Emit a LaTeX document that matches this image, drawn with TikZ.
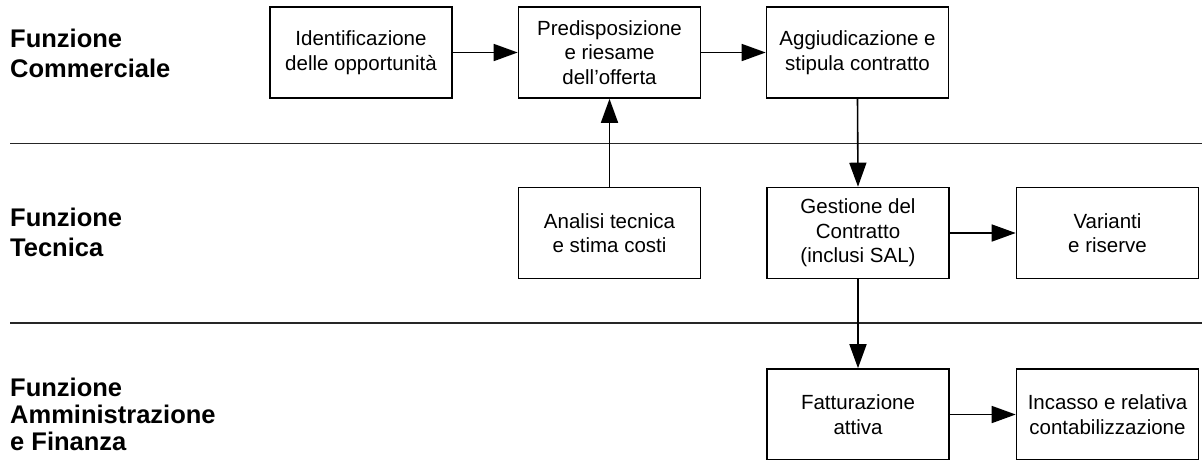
\documentclass[tikz,border=0pt]{standalone}
\usepackage{fontspec}
\setmainfont{Liberation Sans}
\usetikzlibrary{arrows.meta}
\begin{document}
\begin{tikzpicture}[x=1pt,y=-1pt,
  box/.style={draw=black, line width=1.6pt, minimum width=182pt, minimum height=91pt,
    inner sep=0pt, align=center, font=\fontsize{20.5}{24.5}\selectfont},
  conn/.style={line width=1.6pt, -{Triangle[length=24pt,width=17pt]}},
  lane/.style={anchor=west, inner sep=0pt, align=left},
  sep/.style={draw=black!85, line width=1.5pt}]
\clip (0,0) rectangle (1202,459);
\fill[white] (0,0) rectangle (1202,459);
% lane labels
\node[lane, font=\bfseries\fontsize{25.5}{30}\selectfont] (lc) at (10,53) {Funzione\\Commerciale};
\node[lane, font=\bfseries\fontsize{25.5}{30}\selectfont] (lt) at (10,232.5) {Funzione\\Tecnica};
\node[lane, font=\bfseries\fontsize{25.5}{27}\selectfont] (la) at (10,414) {Funzione\\Amministrazione\\e Finanza};
% separators
\coordinate (s1a) at (10,143.5); \coordinate (s1b) at (1202,143.5);
\coordinate (s2a) at (10,323); \coordinate (s2b) at (1202,323);
\draw[sep] (s1a) -- (s1b);
\draw[sep] (s2a) -- (s2b);
% boxes
\node[box] (ident) at (361,52.5) {Identificazione\\delle opportunità};
\node[box] (pred) at (609.5,52.5) {Predisposizione\\e riesame\\dell’offerta};
\node[box] (aggi) at (857.5,52.5) {Aggiudicazione e\\stipula contratto};
\node[box] (anal) at (609.5,233) {Analisi tecnica\\e stima costi};
\node[box] (gest) at (858,233) {Gestione del\\Contratto\\(inclusi SAL)};
\node[box] (var) at (1107.5,233) {Varianti\\e riserve};
\node[box] (fatt) at (858,414.5) {Fatturazione\\attiva};
\node[box] (inc) at (1107.5,414.5) {Incasso e relativa\\contabilizzazione};
% connectors
\draw[conn] (ident.east) -- (pred.west);
\draw[conn] (pred.east) -- (aggi.west);
\draw[conn] (anal.north) -- (pred.south);
\draw[conn] (aggi.south) -- (gest.north);
\draw[conn] (gest.east) -- (var.west);
\draw[conn] (gest.south) -- (fatt.north);
\draw[conn] (fatt.east) -- (inc.west);
\end{tikzpicture}
\end{document}
